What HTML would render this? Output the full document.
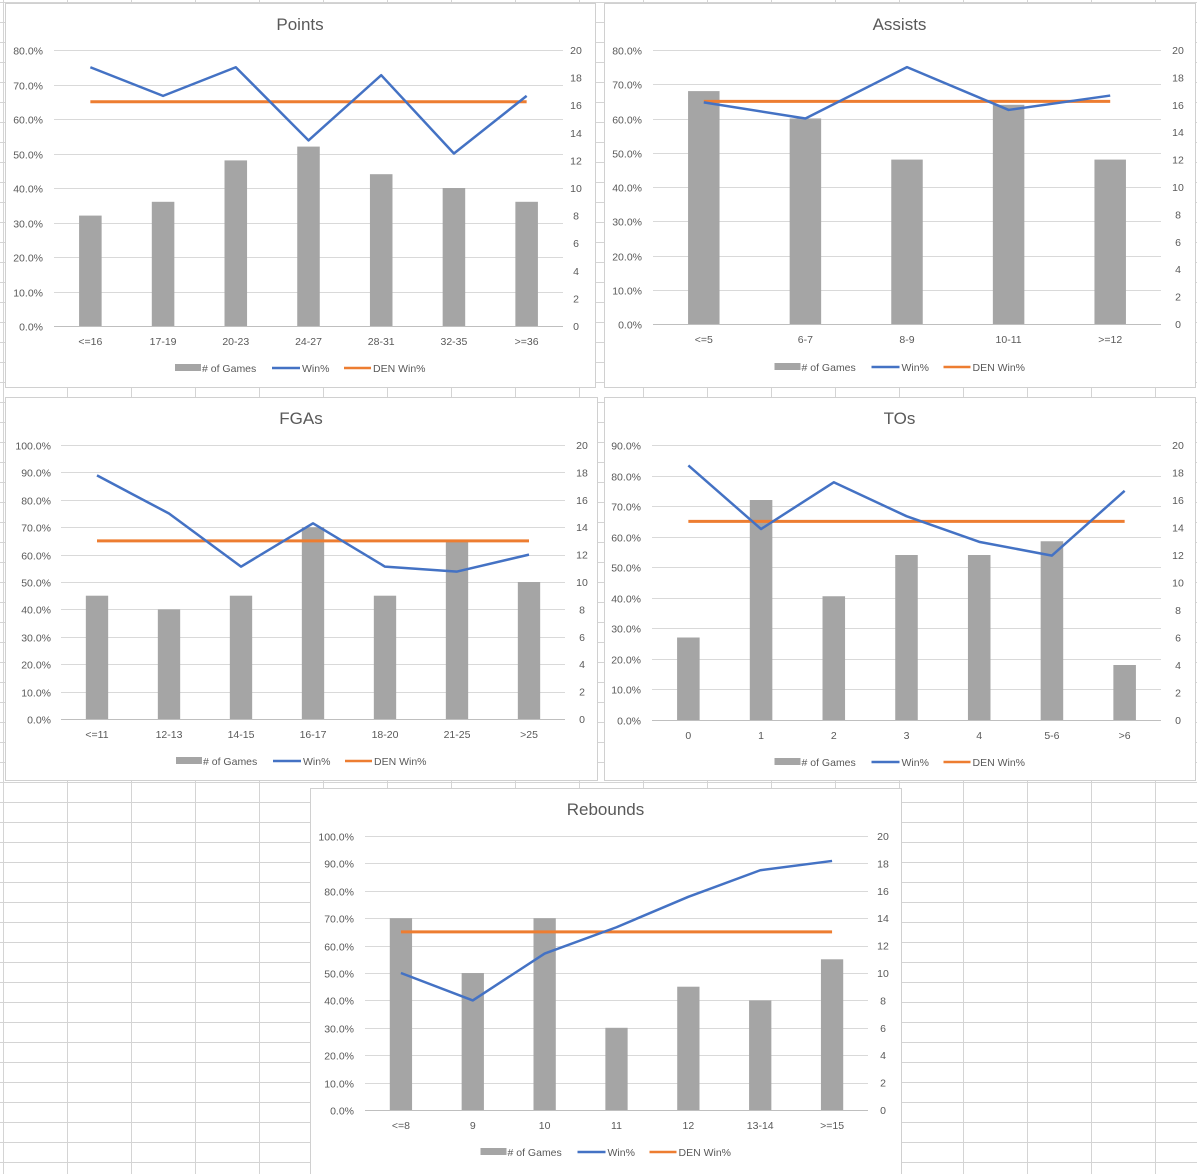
<!DOCTYPE html>
<html><head><meta charset="utf-8">
<style>
html,body{margin:0;padding:0;background:#fff;}
body{width:1197px;height:1174px;overflow:hidden;position:relative;font-family:"Liberation Sans",Arial,sans-serif;}
svg{position:absolute;left:0;top:0;}
text{font-family:"Liberation Sans",Arial,sans-serif;}
</style></head>
<body>
<svg id="s" width="1197" height="1174"></svg>
<script>
// ---- data ----
const pointsCats = ["<=16","17-19","20-23","24-27","28-31","32-35",">=36"];
const pointsGames = [8,9,12,13,11,10,9];
const pointsWin = [75,66.7,75,53.8,72.7,50,66.7];
const pointsDen = [65,65,65,65,65,65,65];

const assistsCats = ["<=5","6-7","8-9","10-11",">=12"];
const assistsGames = [17,15,12,16,12];
const assistsWin = [64.7,60,75,62.5,66.7];
const assistsDen = [65,65,65,65,65];

const fgaCats = ["<=11","12-13","14-15","16-17","18-20","21-25",">25"];
const fgaGames = [9,8,9,14,9,13,10];
const fgaWin = [88.9,75,55.6,71.4,55.6,53.8,60];
const fgaDen = [65,65,65,65,65,65,65];

const toCats = ["0","1","2","3","4","5-6",">6"];
const toGames = [6,16,9,12,12,13,4];
const toWin = [83.3,62.5,77.8,66.7,58.3,53.8,75];
const toDen = [65,65,65,65,65,65,65];

const rebCats = ["<=8","9","10","11","12","13-14",">=15"];
const rebGames = [14,10,14,6,9,8,11];
const rebWin = [50,40,57.1,66.7,77.8,87.5,90.9];
const rebDen = [65,65,65,65,65,65,65];

const rightTicks = [0,2,4,6,8,10,12,14,16,18,20];

const NS="http://www.w3.org/2000/svg";
const svg=document.getElementById('s');
function mk(tag,attrs,parent){const e=document.createElementNS(NS,tag);for(const k in attrs)e.setAttribute(k,attrs[k]);(parent||svg).appendChild(e);return e;}

// spreadsheet grid
const grid=mk('g',{});


for(let x=3;x<1197;x+=64){const xx=x===3?3:x; mk('line',{x1:xx+0.5,y1:0,x2:xx+0.5,y2:1174,stroke:'#d4d4d4','stroke-width':1},grid);}
for(let x=67;x<1197;x+=64){mk('line',{x1:x+0.5,y1:0,x2:x+0.5,y2:1174,stroke:'#d4d4d4','stroke-width':1},grid);}
for(let y=2;y<1174;y+=20){mk('line',{x1:0,y1:y+0.5,x2:1197,y2:y+0.5,stroke:'#d4d4d4','stroke-width':1},grid);}

function chart(o){
  const g=mk('g',{});
  
  
  const box=mk('rect',{x:o.bx+0.5,y:o.by+0.5,width:o.bw,height:o.bh,fill:'#fff',stroke:'#d0d0d0'},g);
  
  
  const t=mk('text',{x:o.bx+o.bw/2,y:o.by+27,'text-anchor':'middle','font-size':17,fill:'#595959'},g);
  t.textContent=o.title;
  
  
  const yL=v=>o.y0-(v/o.lmax)*(o.y0-o.y1);
  const yR=v=>o.y0-(v/20)*(o.y0-o.y1);
  const n=o.cats.length, step=(o.px1-o.px0)/n;
  const xc=i=>o.px0+step*(i+0.5);
  // gridlines & left ticks
  for(let v=0;v<=o.lmax+0.001;v+=10){
    const y=Math.round(yL(v))+0.5;
    const gl=mk('line',{x1:o.px0,x2:o.px1,y1:y,y2:y,stroke:v===0?'#bfbfbf':'#d9d9d9'},g);
    
    
    const tl=mk('text',{x:o.lx,y:y+4,'text-anchor':'end','font-size':10.5,fill:'#595959'},g);
    tl.textContent=v.toFixed(1)+'%';
    
    
  }
  rightTicks.forEach(v=>{
    const tr=mk('text',{x:o.rx,y:yR(v)+4,'text-anchor':'middle','font-size':10.5,fill:'#595959'},g);
    tr.textContent=v;
    
    
  });
  const bw=step*0.31;
  o.games.forEach((v,i)=>{
    const b=mk('rect',{x:xc(i)-bw/2,y:yR(v),width:bw,height:o.y0-yR(v),fill:'#a5a5a5'},g);
    
    
  });
  o.cats.forEach((c,i)=>{
    const ct=mk('text',{x:xc(i),y:o.y0+19,'text-anchor':'middle','font-size':10.5,fill:'#595959'},g);
    ct.textContent=c;
    
    
  });
  const den=mk('polyline',{points:o.den.map((v,i)=>xc(i)+','+yL(v)).join(' '),fill:'none',stroke:'#ed7d31','stroke-width':3},g);
  
  
  const win=mk('polyline',{points:o.win.map((v,i)=>xc(i)+','+yL(v)).join(' '),fill:'none',stroke:'#4472c4','stroke-width':2.5,'stroke-linejoin':'round'},g);
  
  
  // legend
  const lg=mk('g',{},g);
  
  
  const cx=o.bx+o.bw/2, ly=o.ly;
  const sx=cx-125;
  mk('rect',{x:sx,y:ly-4,width:26,height:7,fill:'#a5a5a5'},lg);
  const l1=mk('text',{x:sx+27,y:ly+4,'font-size':10.5,fill:'#595959'},lg);l1.textContent='# of Games';
  mk('line',{x1:sx+97,x2:sx+125,y1:ly,y2:ly,stroke:'#4472c4','stroke-width':2.5},lg);
  const l2=mk('text',{x:sx+127,y:ly+4,'font-size':10.5,fill:'#595959'},lg);l2.textContent='Win%';
  mk('line',{x1:sx+169,x2:sx+196,y1:ly,y2:ly,stroke:'#ed7d31','stroke-width':2.5},lg);
  const l3=mk('text',{x:sx+198,y:ly+4,'font-size':10.5,fill:'#595959'},lg);l3.textContent='DEN Win%';
}

chart({name:'points',title:'Points',cats:pointsCats,games:pointsGames,win:pointsWin,den:pointsDen,lmax:80,
  bx:5,by:3,bw:590,bh:384,px0:54,px1:563,y0:326,y1:50,lx:43,rx:576,ly:368});
chart({name:'assists',title:'Assists',cats:assistsCats,games:assistsGames,win:assistsWin,den:assistsDen,lmax:80,
  bx:604,by:3,bw:591,bh:384,px0:653,px1:1161,y0:324,y1:50,lx:642,rx:1178,ly:367});
chart({name:'fgas',title:'FGAs',cats:fgaCats,games:fgaGames,win:fgaWin,den:fgaDen,lmax:100,
  bx:5,by:397,bw:592,bh:383,px0:61,px1:565,y0:719,y1:445,lx:51,rx:582,ly:761});
chart({name:'tos',title:'TOs',cats:toCats,games:toGames,win:toWin,den:toDen,lmax:90,
  bx:604,by:397,bw:591,bh:383,px0:652,px1:1161,y0:720,y1:445,lx:641,rx:1178,ly:762});
chart({name:'rebounds',title:'Rebounds',cats:rebCats,games:rebGames,win:rebWin,den:rebDen,lmax:100,
  bx:310,by:788,bw:591,bh:386,px0:365,px1:868,y0:1110,y1:836,lx:354,rx:883,ly:1152});
</script>
</body></html>
